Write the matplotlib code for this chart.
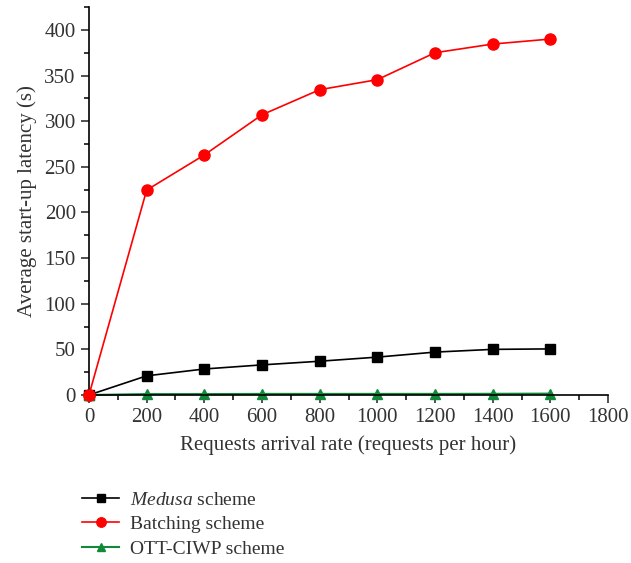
import numpy as np
import matplotlib.pyplot as plt
from matplotlib.ticker import MultipleLocator

plt.rcParams['font.family'] = ['Liberation Serif', 'DejaVu Serif']
plt.rcParams['mathtext.fontset'] = 'custom'
plt.rcParams['mathtext.it'] = 'Liberation Serif:italic'
plt.rcParams['mathtext.rm'] = 'Liberation Serif'

rate = [0, 200, 400, 600, 800, 1000, 1200, 1400, 1600]
medusa = [0, 21, 28.5, 33, 37, 41.5, 47, 50, 50.5]
batching = [0, 224.5, 263, 307, 334.5, 345.5, 375, 384.5, 390]
ottciwp = [0, 1, 1, 1.2, 1.2, 1.2, 1.2, 1.3, 1.5]

fig = plt.figure(figsize=(6.31, 5.63), dpi=100)
ax = fig.add_axes([0.141, 0.2984, 0.8226, 0.689])

l1, = ax.plot(rate, medusa, color='black', marker='s', markersize=7, lw=1.2)
l2, = ax.plot(rate, batching, color='#ff0000', marker='o', markersize=8, lw=1.2)
l3, = ax.plot(rate, ottciwp, color='#108a3a', marker='^', markersize=7, lw=1.5)
# redraw the red origin point on top
ax.plot([0], [0], color='#ff0000', marker='o', markersize=8, zorder=5)

ax.set_xlim(0, 1800)
ax.set_ylim(0, 425)
ax.set_xticks(range(0, 1801, 200))
ax.set_yticks(range(0, 401, 50))
ax.xaxis.set_minor_locator(MultipleLocator(100))
ax.yaxis.set_minor_locator(MultipleLocator(25))
ax.spines['top'].set_visible(False)
ax.spines['right'].set_visible(False)
ax.tick_params(which='major', direction='out', length=6, width=1.1, labelsize=15, colors='#222222')
ax.tick_params(which='minor', direction='out', length=3.5, width=1.1)
for s in ax.spines.values():
    s.set_linewidth(1.2)
for c in (ax.get_xticklabels() + ax.get_yticklabels()):
    c.set_color('#333333')

ax.set_xlabel('Requests arrival rate (requests per hour)', fontsize=15, color='#333333', labelpad=6)
ax.set_ylabel('Average start-up latency (s)', fontsize=15, color='#333333', labelpad=5)
for ln in ax.lines:
    ln.set_clip_on(False)

leg = fig.legend([l1, l2, l3], ['$\\it{Medusa}$ scheme', 'Batching scheme', 'OTT-CIWP scheme'],
                 loc='upper left', bbox_to_anchor=(0.115, 0.145), frameon=False,
                 fontsize=14, handlelength=1.9, labelspacing=0.35, borderpad=0,
                 handletextpad=0.55, markerscale=0.85)
for t in leg.get_texts():
    t.set_color('#333333')

fig.savefig('out.png', dpi=100)
